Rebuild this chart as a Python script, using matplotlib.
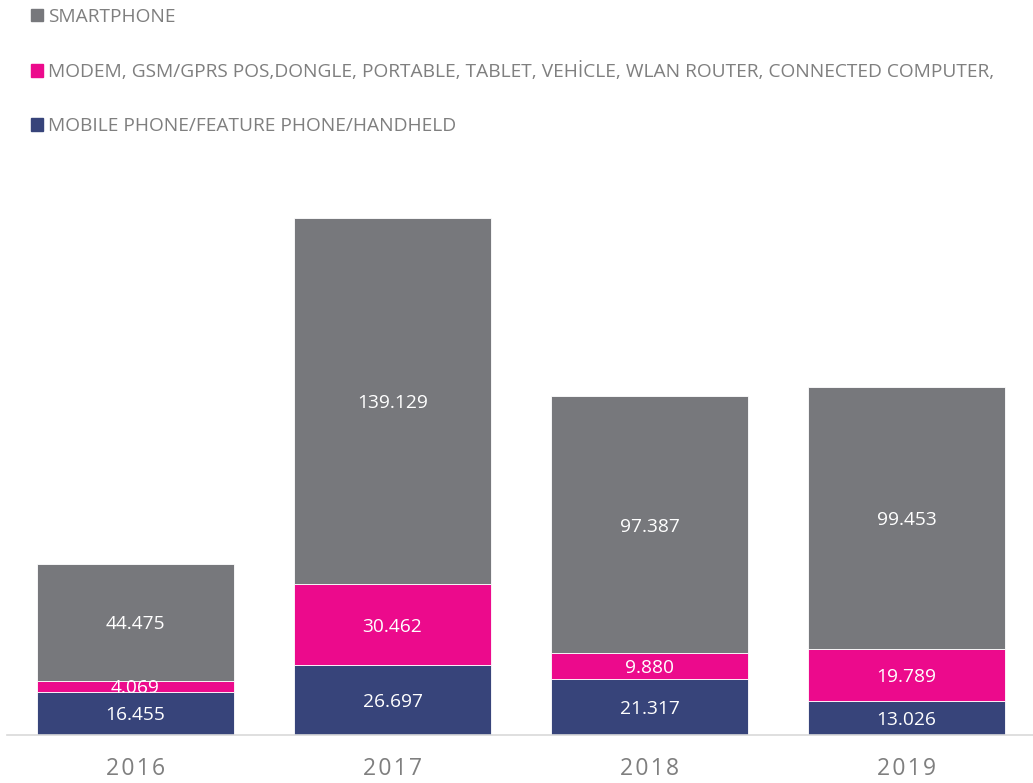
import matplotlib
matplotlib.use("Agg")
import matplotlib.pyplot as plt
from matplotlib.patches import Patch

plt.rcParams['font.family'] = ['Open Sans', 'DejaVu Sans']

years = ["2016", "2017", "2018", "2019"]
mobile = [16.455, 26.697, 21.317, 13.026]
modem = [4.069, 30.462, 9.880, 19.789]
smart = [44.475, 139.129, 97.387, 99.453]
names = ["MOBILE PHONE/FEATURE PHONE/HANDHELD",
         "MODEM, GSM/GPRS POS,DONGLE, PORTABLE, TABLET, VEHİCLE, WLAN ROUTER, CONNECTED COMPUTER,",
         "SMARTPHONE"]
colors = ["#37447A", "#EC0A8C", "#77787C"]

fig = plt.figure(figsize=(10.33, 7.83), dpi=100)
ax = fig.add_axes([7/1033, 48/783, 1028/1033, 579.5/783])

x = list(range(len(years)))
series = [mobile, modem, smart]
bottom = [0.0] * len(years)
handles = []
for vals, name, c in zip(series, names, colors):
    ax.bar(x, vals, width=0.767, bottom=bottom, color=c,
           edgecolor="white", linewidth=0.6, label=name)
    for xi, v, b in zip(x, vals, bottom):
        ax.text(xi, b + v / 2, f"{v:.3f}", ha="center", va="center_baseline",
                color="white", fontsize=13.8)
    bottom = [b + v for b, v in zip(bottom, vals)]
    handles.append(Patch(color=c, label=name))

ax.set_xlim(-0.5, 3.5)
ax.set_ylim(0, 220)
ax.set_xticks(x)
ax.set_xticklabels(["\u200a".join(y) for y in years], fontsize=16.5,
                   color="#7F7F7F")
ax.tick_params(axis="x", length=0, pad=16)
ax.set_yticks([])
for s in ["top", "right", "left"]:
    ax.spines[s].set_visible(False)
ax.spines["bottom"].set_color("#D9D9D9")
ax.spines["bottom"].set_linewidth(1.2)

leg = fig.legend(handles=handles[::-1], loc="upper left",
                 bbox_to_anchor=(23/1033, 1 - 0/783), frameon=False,
                 fontsize=13.8, labelcolor="#7F7F7F", handlelength=0.63,
                 handleheight=0.63, handletextpad=0.3, labelspacing=1.9,
                 borderaxespad=0)

fig.savefig("out.png", dpi=100)
